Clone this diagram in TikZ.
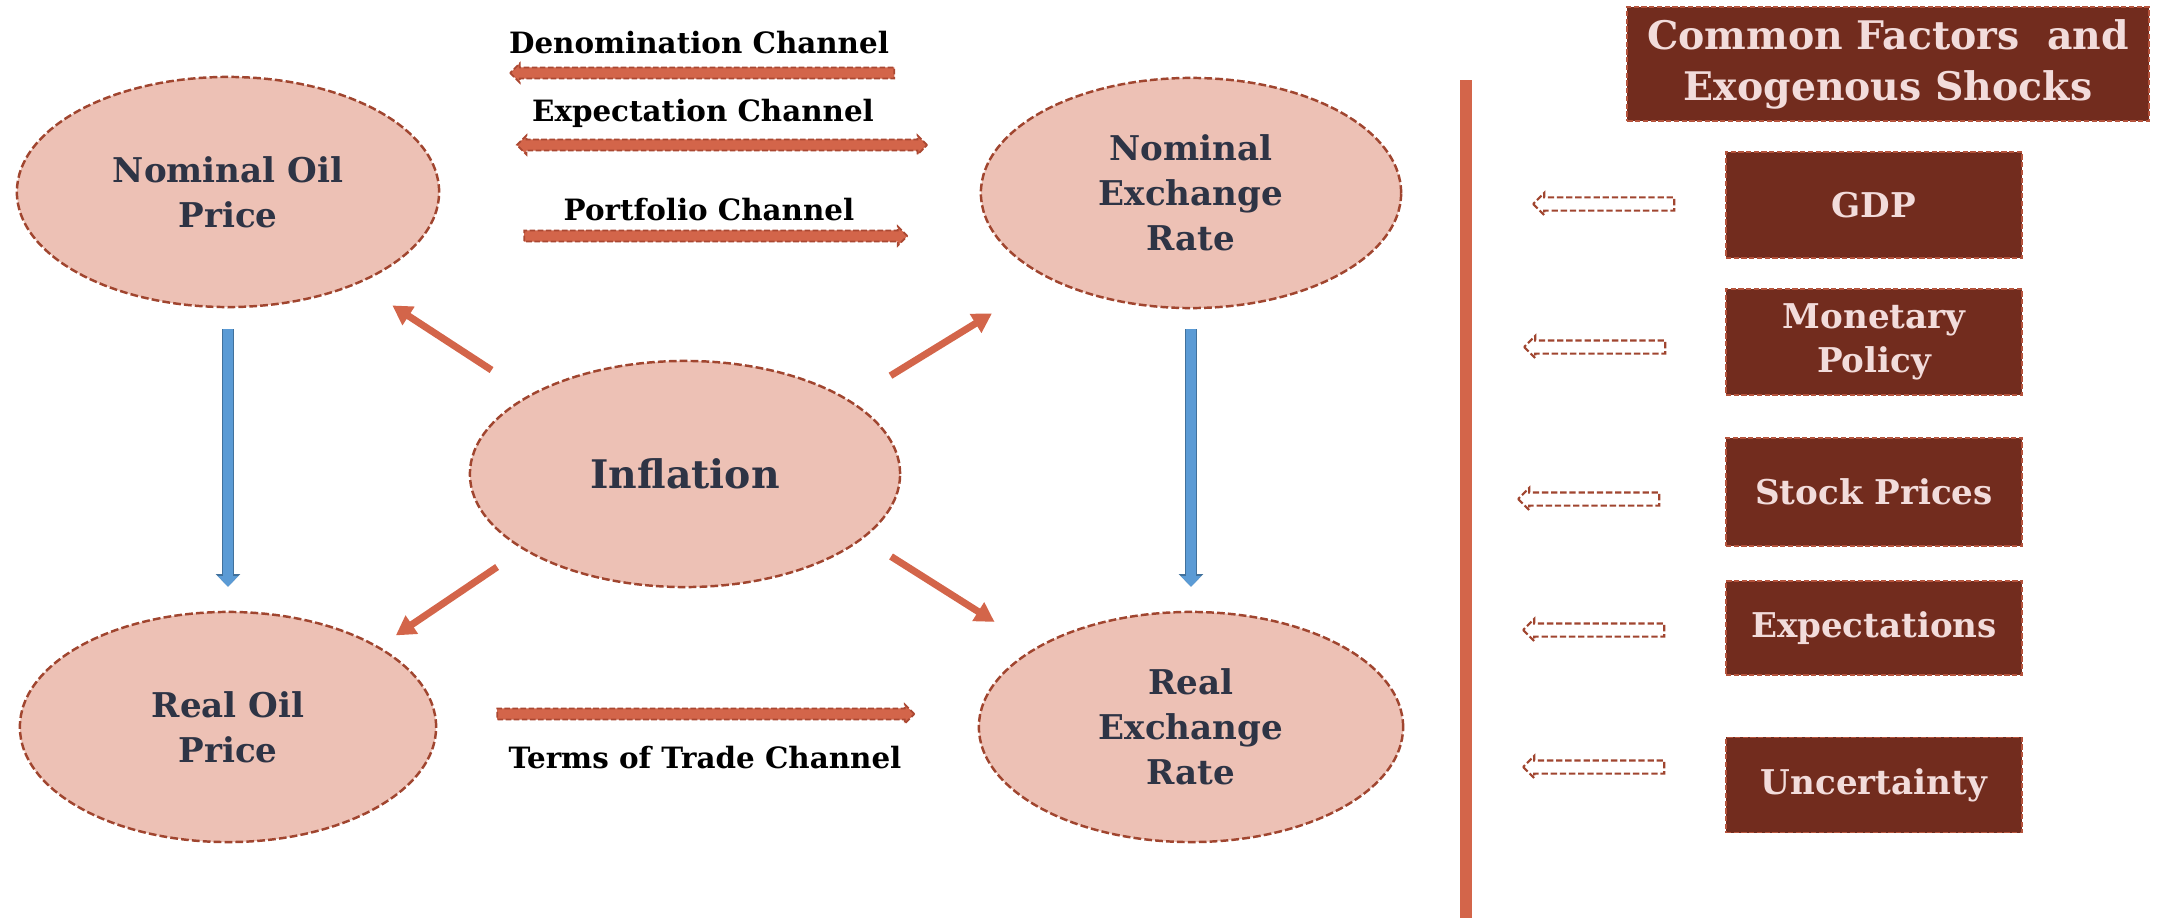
\documentclass[tikz,border=0pt]{standalone}
\usepackage{fontspec}
\setmainfont{DejaVu Serif}
\usepackage{xcolor}
\usetikzlibrary{shapes.geometric,shapes.arrows,arrows.meta}

\definecolor{ovalFill}{RGB}{237,193,181}
\definecolor{ovalEdge}{RGB}{160,69,47}
\definecolor{ovalText}{RGB}{46,52,69}
\definecolor{arrowRed}{RGB}{211,101,74}
\definecolor{arrowEdge}{RGB}{170,72,50}
\definecolor{blueFill}{RGB}{91,155,213}
\definecolor{blueEdge}{RGB}{65,113,156}
\definecolor{boxFill}{RGB}{114,44,30}
\definecolor{boxEdge}{RGB}{181,83,60}
\definecolor{boxText}{RGB}{242,220,219}

\begin{document}
\begin{tikzpicture}
[x=0.01cm, y=-0.01cm,
 ovalDecorate/.style={shape=ellipse, fill=ovalFill, draw=ovalEdge, line width=0.7pt, dash pattern=on 2.2pt off 0.9pt, inner sep=0pt, align=center, text=ovalText, font=\bfseries\fontsize{9.7}{12.8}\selectfont},
 lineDecorate/.style={-{Triangle[length=5.5pt,width=6pt]}, line width=2pt, draw=arrowRed},
 blueDecorate/.style={-{Triangle[length=3pt,width=5.6pt]}, line width=2.8pt, draw=blueFill, preaction={draw=blueEdge, line width=3.6pt, -{Triangle[length=3.6pt,width=6.8pt]}}},
 channelDecorate/.style={single arrow, fill=arrowRed, draw=arrowEdge, line width=0.5pt, dash pattern=on 1.6pt off 0.7pt, inner xsep=0pt, inner ysep=0.047cm, minimum width=0pt, single arrow head extend=0.04cm},
 hollowDecorate/.style={single arrow, shape border rotate=180, draw=ovalEdge, line width=0.6pt, dash pattern=on 1.8pt off 0.8pt, inner xsep=0pt, inner ysep=0.055cm, minimum width=0pt, minimum height=1.41cm, single arrow head extend=0.045cm},
 boxDecorate/.style={rectangle, fill=boxFill, draw=boxEdge, line width=0.5pt, dash pattern=on 1.5pt off 0.7pt, minimum width=2.96cm, inner sep=0pt, align=center, text=boxText, font=\bfseries\fontsize{9.7}{12.5}\selectfont},
 labelDecorate/.style={font=\bfseries\fontsize{8.35}{10}\selectfont, inner sep=0pt}]

\useasboundingbox (0,0) rectangle (2160,918);

% ellipses
\node (nop) at (228,192) [ovalDecorate, minimum width=4.22cm, minimum height=2.3cm] {Nominal Oil\\Price};
\node (ner) at (1191,193) [ovalDecorate, minimum width=4.2cm, minimum height=2.3cm] {Nominal\\Exchange\\Rate};
\node (inf) at (685,474) [ovalDecorate, minimum width=4.3cm, minimum height=2.26cm, font=\bfseries\fontsize{11.2}{13}\selectfont] {Inflation};
\node (rop) at (228,727) [ovalDecorate, minimum width=4.16cm, minimum height=2.3cm] {Real Oil\\Price};
\node (rer) at (1191,727) [ovalDecorate, minimum width=4.24cm, minimum height=2.3cm] {Real\\Exchange\\Rate};

% channels
\node (den) at (699,43) [labelDecorate] {Denomination Channel};
\node (denArrow) at (705,73) [channelDecorate, shape border rotate=180, minimum height=3.84cm] {};
\node (exp) at (703,113) [labelDecorate] {Expectation Channel};
\node (expArrow) at (722,145) [channelDecorate, shape=double arrow, double arrow head extend=0.04cm, minimum height=4.1cm] {};
\node (por) at (709,210) [labelDecorate] {Portfolio Channel};
\node (porArrow) at (713,236) [channelDecorate, minimum height=3.83cm] {};
\node (tot) at (705,758) [labelDecorate] {Terms of Trade Channel};
\node (totArrow) at (703,714) [channelDecorate, minimum height=4.17cm] {};

\path
\foreach \startnode/\sa/\endnode/\ea/\sl/\el in {
inf/153/nop/325/0.45cm/0.40cm,
inf/205/rop/28/0.31cm/0.20cm,
inf/24/ner/211/0.47cm/0.66cm,
inf/340/rer/153/0.33cm/0.48cm}
        {
          (\startnode.\sa) edge[lineDecorate, shorten <=\sl, shorten >=\el] (\endnode.\ea)
        };

\path (nop) edge[blueDecorate, shorten <=0.21cm, shorten >=0.24cm] (rop)
      (ner) edge[blueDecorate, shorten <=0.20cm, shorten >=0.24cm] (rer);

% separator
\coordinate (sepTop) at (1466,80);
\coordinate (sepBot) at (1466,918);
\draw[draw=arrowRed, line width=3.4pt] (sepTop) -- (sepBot);

% common factors
\node (head) at (1888,64) [boxDecorate, minimum width=5.21cm, minimum height=1.14cm, font=\bfseries\fontsize{11.2}{14.5}\selectfont] {Common Factors~ and\\Exogenous Shocks};

\foreach \name/\y/\h/\txt in {
gdp/205/1.06cm/GDP,
mon/342/1.06cm/{Monetary\\Policy},
stk/492/1.08cm/Stock Prices,
exs/628/0.94cm/Expectations,
unc/785/0.95cm/Uncertainty}
 {
          \node (\name) at (1874,\y) [boxDecorate, minimum height=\h] {\txt};
 }

\foreach \name/\x/\y in {
gdp/1607/204,
mon/1598/347,
stk/1592/499,
exs/1597/630,
unc/1597/767}
 {
          \node (s\name) at (\x,\y) [hollowDecorate] {};
 }

\end{tikzpicture}
\end{document}
